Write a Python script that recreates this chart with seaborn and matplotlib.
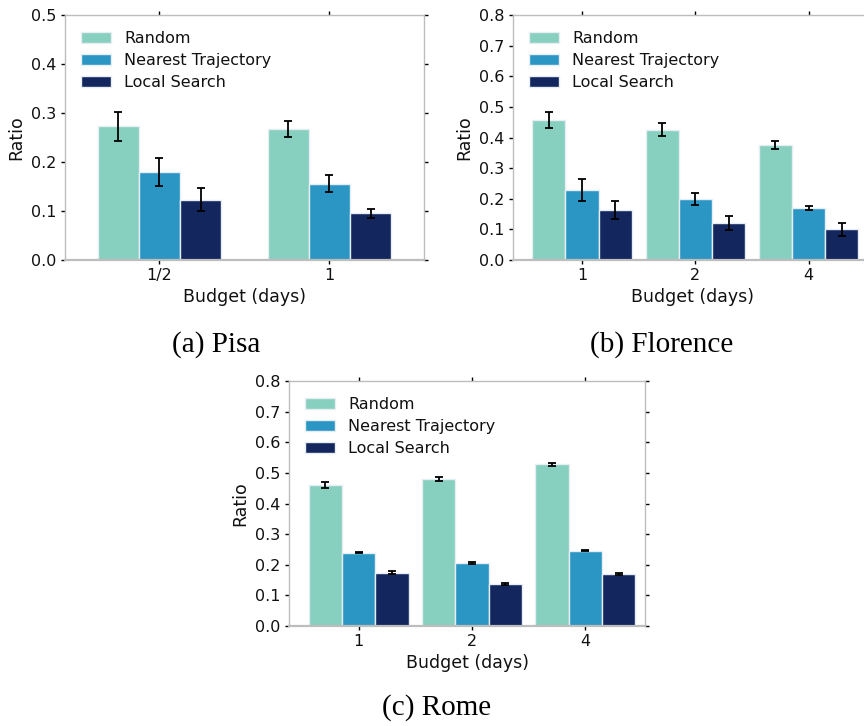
import numpy as np
import pandas as pd
import matplotlib
matplotlib.use('Agg')
import matplotlib.pyplot as plt
import seaborn as sns

methods = ['Random', 'Nearest Trajectory', 'Local Search']
colors = ['#87cfbf', '#2b96c4', '#13275e']

# Pisa
pisa_budgets = ['1/2', '1']
pisa_random = [0.273, 0.268]
pisa_nearest = [0.180, 0.156]
pisa_local = [0.123, 0.095]
pisa_random_err = [0.030, 0.016]
pisa_nearest_err = [0.029, 0.017]
pisa_local_err = [0.023, 0.010]

# Florence
florence_budgets = ['1', '2', '4']
florence_random = [0.458, 0.426, 0.376]
florence_nearest = [0.229, 0.199, 0.170]
florence_local = [0.163, 0.121, 0.100]
florence_random_err = [0.026, 0.021, 0.013]
florence_nearest_err = [0.035, 0.020, 0.007]
florence_local_err = [0.030, 0.023, 0.020]

# Rome
rome_budgets = ['1', '2', '4']
rome_random = [0.460, 0.480, 0.528]
rome_nearest = [0.240, 0.206, 0.246]
rome_local = [0.174, 0.138, 0.170]
rome_random_err = [0.010, 0.006, 0.005]
rome_nearest_err = [0.003, 0.004, 0.002]
rome_local_err = [0.004, 0.003, 0.004]

sns.set_style("white")
plt.rcParams['font.family'] = ['DejaVu Sans']
plt.rcParams['font.size'] = 11.5
plt.rcParams['text.color'] = '#111111'
plt.rcParams['axes.labelcolor'] = '#111111'


def panel(ax, budgets, vals, errs, ymax, width, xlim):
    rows = []
    for m, v in zip(methods, vals):
        for b, y in zip(budgets, v):
            rows.append({'Budget': b, 'Ratio': y, 'Method': m})
    df = pd.DataFrame(rows)
    sns.barplot(data=df, x='Budget', y='Ratio', hue='Method', hue_order=methods,
                palette=colors, width=width, errorbar=None, saturation=1,
                edgecolor='#e6edf3', linewidth=1, ax=ax)
    # error bars at the bar centres
    for cont, err in zip(ax.containers, errs):
        xs = [p.get_x() + p.get_width() / 2 for p in cont]
        ys = [p.get_height() for p in cont]
        ax.errorbar(xs, ys, yerr=err, fmt='none', ecolor='black',
                    elinewidth=1.3, capsize=3, capthick=1.3, zorder=5)
    ax.set_ylim(0, ymax)
    ticks = np.arange(0, ymax + 0.001, 0.1)
    ax.set_yticks(ticks)
    ax.set_yticklabels(['%.1f' % t for t in ticks])
    ax.set_xlim(*xlim)
    ax.set_xlabel('Budget (days)', fontsize=12.5, labelpad=3)
    ax.set_ylabel('Ratio', fontsize=12.5)
    for s in ax.spines.values():
        s.set_visible(True)
        s.set_color('#bdbdbd')
        s.set_linewidth(1)
    ax.spines['bottom'].set_linewidth(1.6)
    ax.tick_params(direction='out', length=3, width=1, color='black',
                   top=True, right=True, bottom=True, left=True,
                   labelsize=11.5, labelcolor='#111111', pad=3)
    ax.legend(loc='upper left', frameon=False, fontsize=11.5,
              handlelength=1.9, handleheight=0.7, handletextpad=0.8,
              labelspacing=0.45, borderaxespad=0.6)


W, H = 864, 726
fig = plt.figure(figsize=(W / 100, H / 100), dpi=100)

ax1 = fig.add_axes([65 / W, 1 - 260 / H, 359 / W, 245 / H])
ax2 = fig.add_axes([513 / W, 1 - 260 / H, 359 / W, 245 / H])
ax3 = fig.add_axes([289 / W, 1 - 626 / H, 356 / W, 245 / H])

panel(ax1, pisa_budgets, [pisa_random, pisa_nearest, pisa_local],
      [pisa_random_err, pisa_nearest_err, pisa_local_err], 0.5, 0.727, (-0.555, 1.557))
panel(ax2, florence_budgets, [florence_random, florence_nearest, florence_local],
      [florence_random_err, florence_nearest_err, florence_local_err], 0.8, 0.88, (-0.61, 2.56))
panel(ax3, rome_budgets, [rome_random, rome_nearest, rome_local],
      [rome_random_err, rome_nearest_err, rome_local_err], 0.8, 0.88, (-0.615, 2.527))

cap = dict(fontfamily='Liberation Serif', fontsize=21, ha='center', va='center',
           color='black')
fig.text(216 / W, 1 - 345 / H, '(a) Pisa', **cap)
fig.text(662 / W, 1 - 345 / H, '(b) Florence', **cap)
fig.text(437 / W, 1 - 708 / H, '(c) Rome', **cap)

fig.savefig('out.png', dpi=100)
